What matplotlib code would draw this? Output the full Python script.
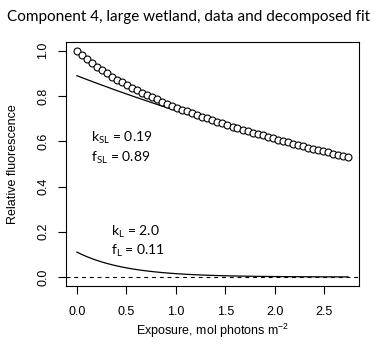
import numpy as np
import matplotlib
matplotlib.use("Agg")
import matplotlib.pyplot as plt

# exposure (mol photons m-2) and measured relative fluorescence
exposure = [0.000, 0.051, 0.101, 0.152, 0.203, 0.254, 0.304, 0.355, 0.406, 0.456,
            0.507, 0.558, 0.608, 0.659, 0.710, 0.761, 0.811, 0.862, 0.913, 0.963,
            1.014, 1.065, 1.115, 1.166, 1.217, 1.268, 1.318, 1.369, 1.420, 1.470,
            1.521, 1.572, 1.622, 1.673, 1.724, 1.775, 1.825, 1.876, 1.927, 1.977,
            2.028, 2.079, 2.129, 2.180, 2.231, 2.282, 2.332, 2.383, 2.434, 2.484,
            2.535, 2.586, 2.636, 2.687, 2.738]
fluor = [1.000, 0.981, 0.963, 0.946, 0.930, 0.914, 0.900, 0.886, 0.873, 0.860,
         0.848, 0.837, 0.825, 0.815, 0.804, 0.794, 0.785, 0.775, 0.766, 0.757,
         0.749, 0.740, 0.732, 0.724, 0.716, 0.708, 0.701, 0.693, 0.686, 0.679,
         0.672, 0.665, 0.658, 0.652, 0.645, 0.638, 0.632, 0.626, 0.620, 0.613,
         0.607, 0.601, 0.595, 0.590, 0.584, 0.578, 0.572, 0.567, 0.561, 0.556,
         0.551, 0.545, 0.540, 0.535, 0.530]

# fitted decay parameters (slow and labile pools)
k_SL, f_SL = 0.19, 0.89
k_L, f_L = 2.0, 0.11

x = np.array(exposure)
slow = f_SL * np.exp(-k_SL * x)
labile = f_L * np.exp(-k_L * x)

plt.rcParams['font.family'] = ['Liberation Sans', 'DejaVu Sans']

fig = plt.figure(figsize=(3.74, 3.48), dpi=100)
ax = fig.add_axes([0.1765, 0.178, 0.7835, 0.702])

ax.axhline(0, color='black', lw=0.8, ls=(0, (3.5, 3.5)))
ax.plot(x, slow, color='black', lw=0.9)
ax.plot(x, labile, color='black', lw=0.9)
ax.plot(x, fluor, 'o', mfc='white', mec='black', ms=5, mew=0.8)

ax.set_xlim(-0.11, 2.85)
ax.set_ylim(-0.04, 1.04)
ax.set_xticks([0, 0.5, 1.0, 1.5, 2.0, 2.5])
ax.set_yticks([0, 0.2, 0.4, 0.6, 0.8, 1.0])
ax.set_xticklabels(['0.0', '0.5', '1.0', '1.5', '2.0', '2.5'])
ax.set_yticklabels(['0.0', '0.2', '0.4', '0.6', '0.8', '1.0'], rotation=90, va='center')
ax.tick_params(direction='out', length=6, width=0.8, labelsize=9)
ax.tick_params(axis='x', pad=8)
ax.tick_params(axis='y', pad=6)
for s in ax.spines.values():
    s.set_linewidth(0.8)

ax.set_xlabel(r'Exposure, mol photons m$^{\mathregular{-2}}$', fontsize=9)
ax.set_ylabel('Relative fluorescence', fontsize=9)
ax.xaxis.set_label_coords(0.5, -0.145)
ax.yaxis.set_label_coords(-0.16, 0.5)

lab = dict(fontsize=10, family='Lato', ha='left', va='center')
ax.text(0.145, 0.616, r'k$_{\mathregular{SL}}$ = %.2f' % k_SL, **lab)
ax.text(0.145, 0.528, r'f$_{\mathregular{SL}}$ = %.2f' % f_SL, **lab)
ax.text(0.347, 0.199, r'k$_{\mathregular{L}}$ = %.1f' % k_L, **lab)
ax.text(0.347, 0.117, r'f$_{\mathregular{L}}$ = %.2f' % f_L, **lab)

fig.text(0.503, 0.951, 'Component 4, large wetland, data and decomposed fit',
         ha='center', va='center', fontsize=11, family='Lato')

fig.savefig('out.png', dpi=100)
